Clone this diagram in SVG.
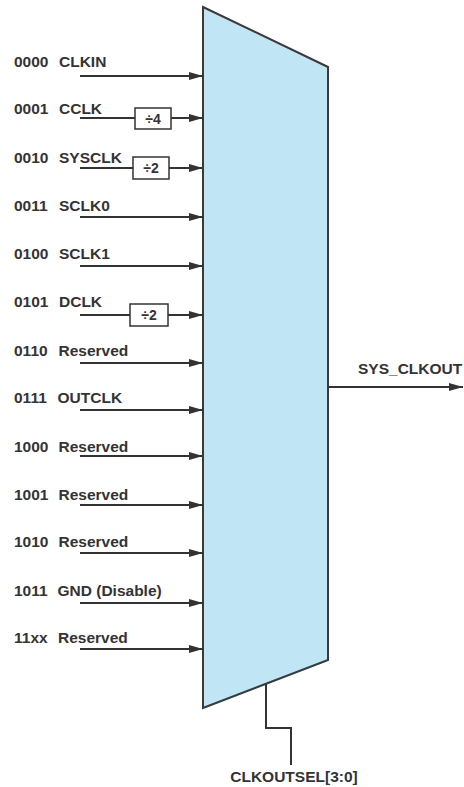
<svg xmlns="http://www.w3.org/2000/svg" width="464" height="787" viewBox="0 0 464 787">
<style>
.t{font-family:"Liberation Sans",Arial,sans-serif;font-weight:bold;font-size:15.5px;fill:#333}
.d{font-family:"Liberation Sans",Arial,sans-serif;font-weight:bold;font-size:14px;fill:#333;text-anchor:middle}
.w{stroke:#333;stroke-width:2;fill:none}
.box{fill:#fff;stroke:#333;stroke-width:1.5}
</style>
<defs>
<marker id="ah" markerUnits="userSpaceOnUse" markerWidth="14" markerHeight="8" refX="14" refY="4" orient="auto">
<path d="M0,0 L14,4 L0,8 z" fill="#333"/>
</marker>
</defs>
<rect width="464" height="787" fill="#fff"/>
<g id="mux">
<polygon points="203,7 328,67 328,660 203,708" fill="#c0e5f4" stroke="#3a3a3a" stroke-width="2"/>
</g>
<g id="connectors">
<line class="w" x1="80" y1="76" x2="203" y2="76" marker-end="url(#ah)"/>
<line class="w" x1="80" y1="118" x2="135" y2="118"/>
<line class="w" x1="171" y1="118" x2="203" y2="118" marker-end="url(#ah)"/>
<line class="w" x1="80" y1="168" x2="133" y2="168"/>
<line class="w" x1="169" y1="168" x2="203" y2="168" marker-end="url(#ah)"/>
<line class="w" x1="80" y1="217" x2="203" y2="217" marker-end="url(#ah)"/>
<line class="w" x1="80" y1="266" x2="203" y2="266" marker-end="url(#ah)"/>
<line class="w" x1="80" y1="315" x2="130" y2="315"/>
<line class="w" x1="168" y1="315" x2="203" y2="315" marker-end="url(#ah)"/>
<line class="w" x1="80" y1="363" x2="203" y2="363" marker-end="url(#ah)"/>
<line class="w" x1="80" y1="410" x2="203" y2="410" marker-end="url(#ah)"/>
<line class="w" x1="80" y1="456" x2="203" y2="456" marker-end="url(#ah)"/>
<line class="w" x1="80" y1="505" x2="203" y2="505" marker-end="url(#ah)"/>
<line class="w" x1="80" y1="553" x2="203" y2="553" marker-end="url(#ah)"/>
<line class="w" x1="80" y1="603" x2="203" y2="603" marker-end="url(#ah)"/>
<line class="w" x1="80" y1="649" x2="203" y2="649" marker-end="url(#ah)"/>
<line class="w" x1="328" y1="387" x2="463" y2="387" marker-end="url(#ah)"/>
<polyline class="w" points="266,684 266,728 291,728 291,765"/>
</g>
<g id="div4"><rect class="box" x="135" y="108" width="36" height="21"/><text class="d" x="153" y="123.5">÷4</text></g>
<g id="div2a"><rect class="box" x="133" y="157" width="36" height="22"/><text class="d" x="151" y="173">÷2</text></g>
<g id="div2b"><rect class="box" x="130" y="304" width="38" height="22"/><text class="d" x="149" y="320">÷2</text></g>
<g id="labels">
<text class="t" x="14" y="67">0000</text><text class="t" x="59" y="67">CLKIN</text>
<text class="t" x="14" y="114">0001</text><text class="t" x="59" y="114">CCLK</text>
<text class="t" x="14" y="163">0010</text><text class="t" x="59" y="163">SYSCLK</text>
<text class="t" x="14" y="211">0011</text><text class="t" x="59" y="211">SCLK0</text>
<text class="t" x="14" y="259">0100</text><text class="t" x="59" y="259">SCLK1</text>
<text class="t" x="14" y="307">0101</text><text class="t" x="59" y="307">DCLK</text>
<text class="t" x="14" y="356">0110</text><text class="t" x="58.5" y="356">Reserved</text>
<text class="t" x="14" y="403">0111</text><text class="t" x="57.5" y="403">OUTCLK</text>
<text class="t" x="14" y="452">1000</text><text class="t" x="58.5" y="452">Reserved</text>
<text class="t" x="14" y="500">1001</text><text class="t" x="58.5" y="500">Reserved</text>
<text class="t" x="14" y="547">1010</text><text class="t" x="58.5" y="547">Reserved</text>
<text class="t" x="14" y="596">1011</text><text class="t" x="57.5" y="596">GND (Disable)</text>
<text class="t" x="14" y="643">11xx</text><text class="t" x="58" y="643">Reserved</text>
<text class="t" x="358" y="374">SYS_CLKOUT</text>
<text class="t" x="294" y="782" text-anchor="middle">CLKOUTSEL[3:0]</text>
</g>
</svg>
